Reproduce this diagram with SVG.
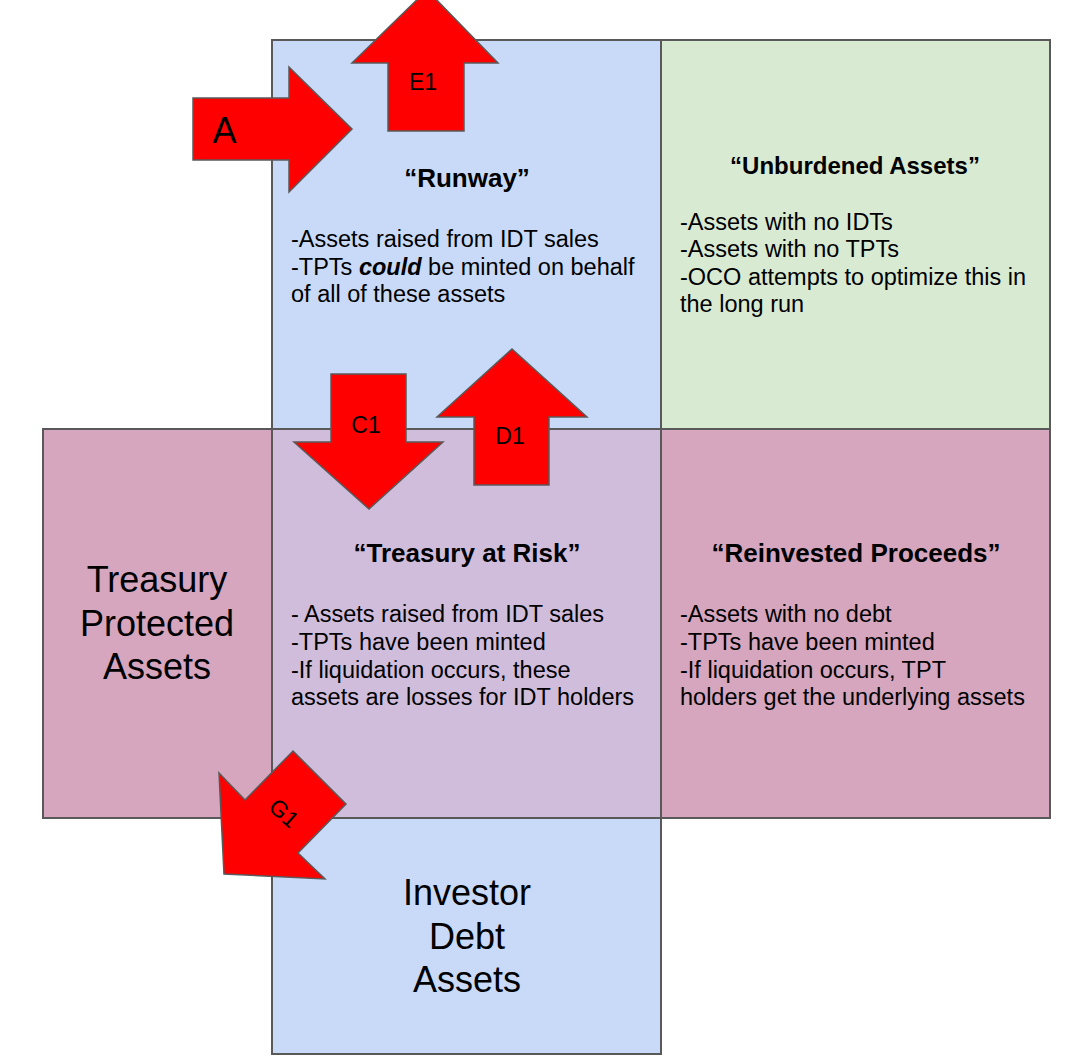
<svg xmlns="http://www.w3.org/2000/svg" width="1072" height="1060" viewBox="0 0 1072 1060">
<style>
.box{stroke:#595959;stroke-width:2}
.blue{fill:#c9daf8}
.green{fill:#d9ead3}
.pink{fill:#d5a6bd}
.purple{fill:#d0bddb}
.arrow{fill:#ff0000;stroke:#595959;stroke-width:1.5;stroke-linejoin:miter}
text{font-family:"Liberation Sans",Arial,sans-serif;fill:#000}
.title{font-size:26px;font-weight:bold;text-anchor:middle}
.body{font-size:23.5px}
.big{font-size:36px;text-anchor:middle}
.lbl{font-size:23px;text-anchor:middle}
</style>
<rect width="1072" height="1060" fill="#ffffff"/>
<g id="runway">
<rect class="box blue" x="272" y="40" width="389" height="389"/>
<text class="title" x="467" y="187">“Runway”</text>
<text class="body" x="291" y="247">-Assets raised from IDT sales</text>
<text class="body" x="291" y="275">-TPTs <tspan font-weight="bold" font-style="italic">could</tspan> be minted on behalf</text>
<text class="body" x="291" y="302">of all of these assets</text>
</g>
<g id="unburdened">
<rect class="box green" x="661" y="40" width="389" height="389"/>
<text class="title" x="855" y="174" style="font-size:24px">“Unburdened Assets”</text>
<text class="body" x="680" y="230">-Assets with no IDTs</text>
<text class="body" x="680" y="257">-Assets with no TPTs</text>
<text class="body" x="680" y="285">-OCO attempts to optimize this in</text>
<text class="body" x="680" y="312">the long run</text>
</g>
<g id="treasury-protected">
<rect class="box pink" x="43" y="429" width="229" height="389"/>
<text class="big" x="157" y="592">Treasury</text>
<text class="big" x="157" y="636">Protected</text>
<text class="big" x="157" y="679">Assets</text>
</g>
<g id="treasury-at-risk">
<rect class="box purple" x="272" y="429" width="389" height="389"/>
<text class="title" x="467" y="562">“Treasury at Risk”</text>
<text class="body" x="291" y="622">- Assets raised from IDT sales</text>
<text class="body" x="291" y="650">-TPTs have been minted</text>
<text class="body" x="291" y="678">-If liquidation occurs, these</text>
<text class="body" x="291" y="705">assets are losses for IDT holders</text>
</g>
<g id="reinvested">
<rect class="box pink" x="661" y="429" width="389" height="389"/>
<text class="title" x="856" y="562">“Reinvested Proceeds”</text>
<text class="body" x="680" y="622">-Assets with no debt</text>
<text class="body" x="680" y="650">-TPTs have been minted</text>
<text class="body" x="680" y="678">-If liquidation occurs, TPT</text>
<text class="body" x="680" y="705">holders get the underlying assets</text>
</g>
<g id="investor-debt">
<rect class="box blue" x="272" y="818" width="389" height="236"/>
<text class="big" x="467" y="905">Investor</text>
<text class="big" x="467" y="949">Debt</text>
<text class="big" x="467" y="992">Assets</text>
</g>
<g id="connectors">
<g id="arrow-A">
<polygon class="arrow" points="193,98 289,98 289,67 352,129 289,192 289,160 193,160"/>
<text x="224.5" y="143" font-size="36" text-anchor="middle">A</text>
</g>
<g id="arrow-E1">
<polygon class="arrow" points="388,131 388,63 352,63 427,-10 498,63 464,63 464,131"/>
<text class="lbl" x="423" y="90">E1</text>
</g>
<g id="arrow-C1">
<polygon class="arrow" points="331,374 406,374 406,442 443,442 369,509 294,442 331,442"/>
<text class="lbl" x="366" y="433">C1</text>
</g>
<g id="arrow-D1">
<polygon class="arrow" points="474,485 474,417 437,417 512,349 587,417 549,417 549,485"/>
<text class="lbl" x="510" y="444">D1</text>
</g>
<g id="arrow-G1">
<polygon class="arrow" points="293,751 346,804 298,853 325,879 224,874 219,773 245,800"/>
<text class="lbl" x="0" y="8" transform="translate(284,813) rotate(42)">G1</text>
</g>
</g>
</svg>
